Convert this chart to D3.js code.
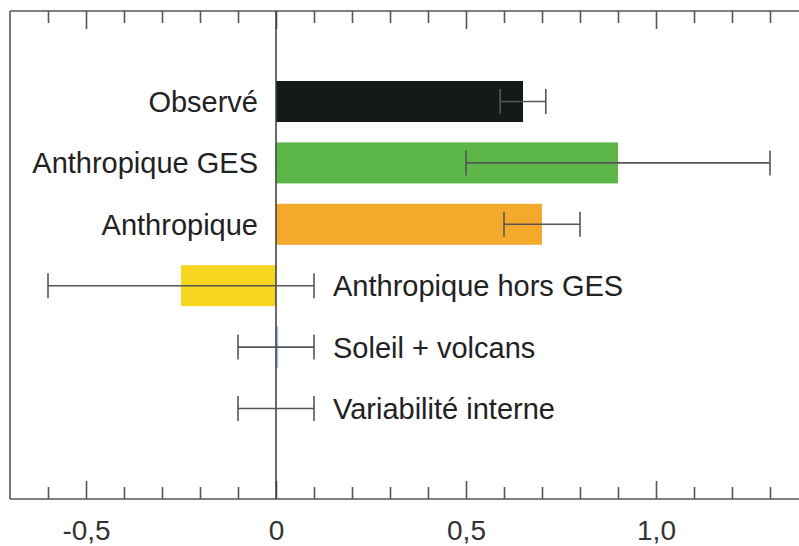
<!DOCTYPE html>
<html><head><meta charset="utf-8">
<script src="https://cdn.jsdelivr.net/npm/d3@7"></script>
<style>
html,body{margin:0;padding:0;background:#fff;}
svg{display:block;font-family:"Liberation Sans",Arial,sans-serif;}
</style></head>
<body>
<svg id="chart" width="799" height="546"></svg>
<script>
const categories = ["Observé","Anthropique GES","Anthropique","Anthropique hors GES","Soleil + volcans","Variabilité interne"];
const values   = [0.65, 0.90, 0.70, -0.25, 0.006, 0];
const errLow   = [0.59, 0.50, 0.60, -0.60, -0.10, -0.10];
const errHigh  = [0.71, 1.30, 0.80, 0.10, 0.10, 0.10];
const colors   = ["#141a16","#5cb648","#f3aa2c","#f6d61e","#9cc4e8","#ffffff"];
const minorTicks = [-0.6,-0.4,-0.3,-0.2,-0.1,0.1,0.2,0.3,0.4,0.6,0.7,0.8,0.9,1.1,1.2,1.3];
const majorTicks = [-0.5,0,0.5,1.0];
const majorLabels = ["-0,5","0","0,5","1,0"];

const svg = d3.select("#chart");
const mLeft = 10, mTop = 11, mBottom = 499;
const x = d3.scaleLinear().domain([-0.7,1.4]).range([mLeft, mLeft + 2.1*380]);
const y = d3.scaleBand().domain(categories).range([mTop,mBottom]).paddingInner(0.332).paddingOuter(1.14);
const axisColor = "#555";

// frame
svg.append("line").attr("x1",x(-0.7)).attr("x2",x(1.4)).attr("y1",mTop).attr("y2",mTop).attr("stroke",axisColor).attr("stroke-width",1.6);
svg.append("line").attr("x1",x(-0.7)).attr("x2",x(1.4)).attr("y1",mBottom).attr("y2",mBottom).attr("stroke",axisColor).attr("stroke-width",1.6);
svg.append("line").attr("x1",x(-0.7)).attr("x2",x(-0.7)).attr("y1",mTop).attr("y2",mBottom).attr("stroke",axisColor).attr("stroke-width",1.6);

function styleAxis(g){
  g.select(".domain").remove();
  g.selectAll(".tick line").attr("stroke",axisColor).attr("stroke-width",1.6);
}
const fmt = v => majorLabels[majorTicks.indexOf(v)];
svg.append("g").attr("transform",`translate(0,${mBottom})`)
  .call(d3.axisBottom(x).tickValues(minorTicks).tickSize(-12).tickFormat("")).call(styleAxis);
svg.append("g").attr("transform",`translate(0,${mBottom})`)
  .call(d3.axisBottom(x).tickValues(majorTicks).tickSize(-18).tickPadding(21).tickFormat(fmt)).call(styleAxis)
  .selectAll("text").attr("font-size",28).attr("fill","#333").attr("font-family","Liberation Sans, Arial, sans-serif");
svg.append("g").attr("transform",`translate(0,${mTop})`)
  .call(d3.axisTop(x).tickValues(minorTicks).tickSize(-12).tickFormat("")).call(styleAxis);
svg.append("g").attr("transform",`translate(0,${mTop})`)
  .call(d3.axisTop(x).tickValues(majorTicks).tickSize(-18).tickFormat("")).call(styleAxis);

// bars
const idx = d3.range(categories.length);
svg.append("g").selectAll("rect").data(idx).join("rect")
  .attr("x", i => x(Math.min(0, values[i])))
  .attr("width", i => Math.abs(x(values[i]) - x(0)))
  .attr("y", i => y(categories[i]))
  .attr("height", y.bandwidth())
  .attr("fill", i => colors[i]);

// zero line
svg.append("line").attr("x1",x(0)).attr("x2",x(0)).attr("y1",mTop).attr("y2",mBottom).attr("stroke","#444").attr("stroke-width",1.6);

// error bars
const eg = svg.append("g").attr("stroke","#555").attr("stroke-width",1.6);
idx.forEach(i => {
  const cy = y(categories[i]) + y.bandwidth()/2;
  eg.append("line").attr("x1",x(errLow[i])).attr("x2",x(errHigh[i])).attr("y1",cy).attr("y2",cy);
  eg.append("line").attr("x1",x(errLow[i])).attr("x2",x(errLow[i])).attr("y1",cy-12.5).attr("y2",cy+12.5);
  eg.append("line").attr("x1",x(errHigh[i])).attr("x2",x(errHigh[i])).attr("y1",cy-12.5).attr("y2",cy+12.5);
});

// labels
svg.append("g").selectAll("text").data(idx).join("text")
  .attr("x", i => values[i] > 0.05 ? x(0) - 18 : x(errHigh[i]) + 19)
  .attr("y", i => y(categories[i]) + y.bandwidth()/2)
  .attr("dy","0.36em")
  .attr("text-anchor", i => values[i] > 0.05 ? "end" : "start")
  .attr("font-size",29).attr("fill","#222")
  .text(i => categories[i]);
</script>
</body></html>
